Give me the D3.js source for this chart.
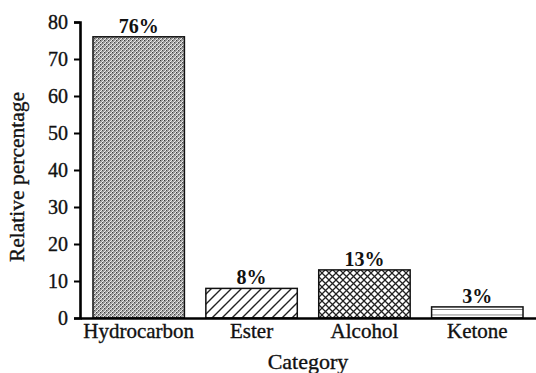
<!DOCTYPE html>
<html>
<head>
<meta charset="utf-8">
<script src="https://cdn.jsdelivr.net/npm/d3@7"></script>
<style>
  html, body { margin: 0; padding: 0; background: #fff; }
  svg { display: block; }
  text { font-family: "Liberation Serif", "Times New Roman", serif; fill: #111; }
  .thick { stroke: #111; stroke-width: 0.35px; }
</style>
</head>
<body>
<svg id="chart" width="536" height="373"></svg>
<script>
const categories = ["Hydrocarbon", "Ester", "Alcohol", "Ketone"];
const values = [76, 8, 13, 3];
const valueLabels = ["76%", "8%", "13%", "3%"];
const patternIds = ["pHydro", "pEster", "pAlcohol", "pKetone"];
const yTicks = [0, 10, 20, 30, 40, 50, 60, 70, 80];

const svg = d3.select("#chart");
const mLeft = 80, mRight = 536, mTop = 22, mBottom = 318;

// patterns
const defs = svg.append("defs");
const ph = defs.append("pattern").attr("id", "pHydro").attr("patternUnits", "userSpaceOnUse")
  .attr("width", 4).attr("height", 4);
ph.append("rect").attr("width", 4).attr("height", 4).attr("fill", "#9c9c9c");
ph.append("path").attr("d", "M0,4 L4,0").attr("stroke", "#ececec").attr("stroke-width", 1);
ph.append("rect").attr("x", 0).attr("y", 0).attr("width", 1).attr("height", 1).attr("fill", "#3a3a3a");
ph.append("rect").attr("x", 2).attr("y", 2).attr("width", 1).attr("height", 1).attr("fill", "#4a4a4a");
const pe = defs.append("pattern").attr("id", "pEster").attr("patternUnits", "userSpaceOnUse")
  .attr("width", 10).attr("height", 10);
pe.append("rect").attr("width", 10).attr("height", 10).attr("fill", "#fff");
pe.append("path").attr("d", "M-2,12 L12,-2 M-2,2 L2,-2 M8,12 L12,8").attr("stroke", "#222").attr("stroke-width", 1.4);
const pa = defs.append("pattern").attr("id", "pAlcohol").attr("patternUnits", "userSpaceOnUse")
  .attr("width", 7).attr("height", 7);
pa.append("rect").attr("width", 7).attr("height", 7).attr("fill", "#fff");
pa.append("path").attr("d", "M-1,8 L8,-1 M-1,-1 L8,8").attr("stroke", "#222").attr("stroke-width", 1.3);
const pk = defs.append("pattern").attr("id", "pKetone").attr("patternUnits", "userSpaceOnUse")
  .attr("width", 10).attr("height", 5.5).attr("y", 1);
pk.append("rect").attr("width", 10).attr("height", 5.5).attr("fill", "#fff");
pk.append("path").attr("d", "M0,0 L10,0").attr("stroke", "#333").attr("stroke-width", 1.2);

const x = d3.scaleBand().domain(categories).range([mLeft, mRight]).paddingInner(0.19).paddingOuter(0.115);
const y = d3.scaleLinear().domain([0, 80]).range([mBottom, mTop]);

svg.append("g").selectAll("rect").data(categories).join("rect")
  .attr("x", d => x(d))
  .attr("y", (d, i) => y(values[i]))
  .attr("width", x.bandwidth())
  .attr("height", (d, i) => y(0) - y(values[i]))
  .attr("fill", (d, i) => `url(#${patternIds[i]})`)
  .attr("stroke", "#111").attr("stroke-width", 1.5);

svg.append("g").selectAll("text").data(categories).join("text")
  .attr("x", d => x(d) + x.bandwidth() / 2)
  .attr("y", (d, i) => y(values[i]) - 4)
  .attr("text-anchor", "middle")
  .attr("font-size", 20).attr("font-weight", "bold")
  .text((d, i) => valueLabels[i]);

const yAxis = svg.append("g").attr("transform", `translate(${mLeft},0)`)
  .call(d3.axisLeft(y).tickValues(yTicks).tickSize(6).tickPadding(6).tickFormat(d3.format("d")));
yAxis.select(".domain").attr("stroke", "#000").attr("stroke-width", 2.6);
yAxis.selectAll(".tick line").attr("stroke", "#000").attr("stroke-width", 2);
yAxis.selectAll(".tick text").attr("font-size", 20).attr("font-family", "Liberation Serif")
  .attr("fill", "#111").attr("class", "thick");

const xAxis = svg.append("g").attr("transform", `translate(0,${mBottom})`)
  .call(d3.axisBottom(x).tickSize(0).tickPadding(5));
xAxis.select(".domain").attr("stroke", "#000").attr("stroke-width", 2.6);
xAxis.selectAll(".tick text").attr("font-size", 21).attr("font-family", "Liberation Serif")
  .attr("fill", "#111").attr("class", "thick");

svg.append("text").attr("transform", `translate(24,177) rotate(-90)`)
  .attr("text-anchor", "middle").attr("font-size", 21.5).attr("class", "thick").text("Relative percentage");
svg.append("text").attr("x", (mLeft + mRight) / 2).attr("y", 369)
  .attr("text-anchor", "middle").attr("font-size", 22).attr("class", "thick").text("Category");
</script>
</body>
</html>
